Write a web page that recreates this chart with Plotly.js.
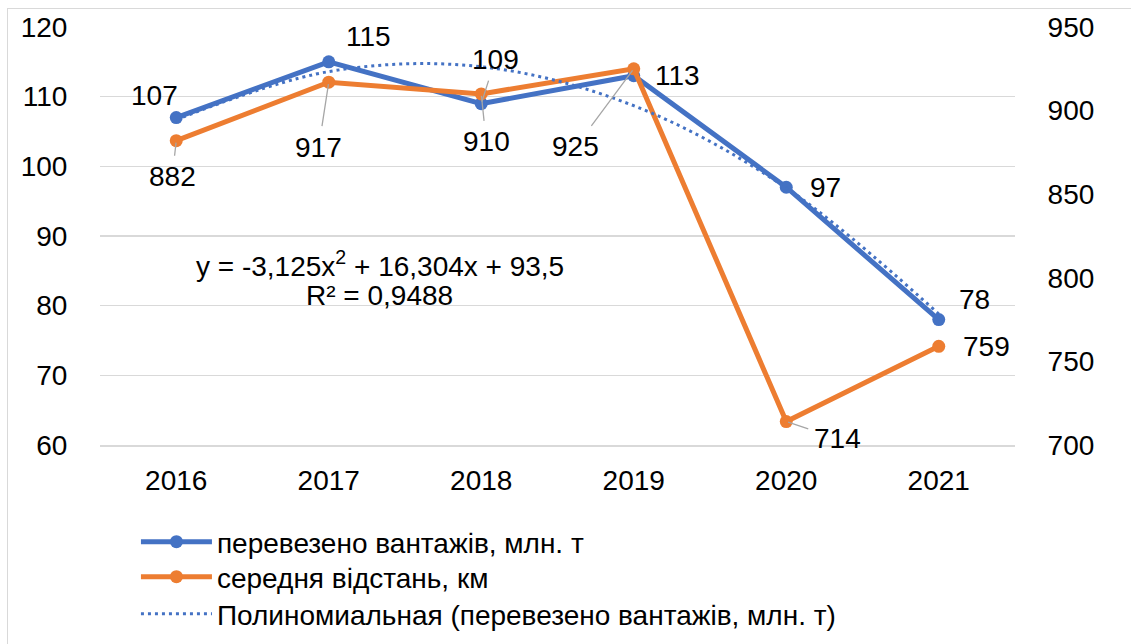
<!DOCTYPE html>
<html><head><meta charset="utf-8">
<script src="https://cdn.plot.ly/plotly-3.0.1.min.js"></script>
<style>html,body{margin:0;padding:0;background:#fff;overflow:hidden}
#chart{width:1131px;height:644px;position:absolute;left:0;top:0}
#frame{position:absolute;left:7px;top:8px;width:1200px;height:700px;border:1px solid #D9D9D9;pointer-events:none}
</style></head><body><div id="chart"></div><div id="frame"></div>
<script>
const years = ['2016','2017','2018','2019','2020','2021'];
const cargo = [107, 115, 109, 113, 97, 78];
const distance = [882, 917, 910, 925, 714, 759];
const trend = [106.7, 113.6, 114.3, 108.7, 96.9, 78.8];
const cargoName = 'перевезено вантажів, млн. т';
const distName = 'середня відстань, км';
const trendName = 'Полиномиальная (перевезено вантажів, млн. т)';
const eqLine1 = 'y = -3,125x<sup>2</sup> + 16,304x + 93,5';
const eqLine2 = 'R² = 0,9488';

// label placement (pixel offsets from the point)
const cargoOff = [[-22, 22, false], [40, 25, false], [14, -44, true], [44, 0, false], [39, 0, false], [36, 20, false]];
const distOff = [[-4, 36, true], [-10, 65, true], [5, 48, true], [-58, 78, true], [51, 17, true], [48, 0, false]];

const FONT = 'Liberation Sans, Arial, sans-serif';
const FS = 28;
const BLUE = '#4472C4', ORANGE = '#ED7D31', GRID = '#D9D9D9', LEAD = '#A6A6A6';

const traces = [
  {x: years, y: cargo, name: cargoName, type: 'scatter', mode: 'lines+markers', legend: 'legend',
   line: {color: BLUE, width: 5}, marker: {color: BLUE, size: 13}, yaxis: 'y'},
  {x: years, y: distance, name: distName, type: 'scatter', mode: 'lines+markers', legend: 'legend2',
   line: {color: ORANGE, width: 5}, marker: {color: ORANGE, size: 13}, yaxis: 'y2'},
  {x: years, y: trend, name: trendName, type: 'scatter', mode: 'lines', legend: 'legend3',
   line: {color: BLUE, width: 3, dash: '3px,4px', shape: 'spline'}, yaxis: 'y3'}
];

const annotations = [];
function addLabel(idx, yv, text, off, yref) {
  const [dx, dy, lead] = off;
  if (lead) {
    annotations.push({x: idx, y: yv, xref: 'x', yref: yref, text: text, showarrow: true,
      arrowhead: 0, arrowwidth: 1.3, arrowcolor: LEAD, ax: dx, ay: dy, axref: 'pixel', ayref: 'pixel',
      borderpad: 5, standoff: 2, font: {family: FONT, size: FS, color: '#000'}});
  } else {
    annotations.push({x: idx, y: yv, xref: 'x', yref: yref, text: text, showarrow: false,
      xanchor: 'center', yanchor: 'middle', xshift: dx, yshift: dy,
      font: {family: FONT, size: FS, color: '#000'}});
  }
}
years.forEach((yr, i) => {
  addLabel(i, cargo[i], String(cargo[i]), cargoOff[i], 'y');
  addLabel(i, distance[i], String(distance[i]), distOff[i], 'y2');
});
annotations.push({xref: 'paper', yref: 'paper', x: 0.306, y: 0.432, xanchor: 'center', yanchor: 'middle',
  text: eqLine1, showarrow: false, font: {family: FONT, size: FS, color: '#000'}});
annotations.push({xref: 'paper', yref: 'paper', x: 0.306, y: 0.357, xanchor: 'center', yanchor: 'middle',
  text: eqLine2, showarrow: false, font: {family: FONT, size: FS, color: '#000'}});

function legendAt(yc) {
  return {xref: 'container', yref: 'container', x: 0.1202, xanchor: 'left', y: yc, yanchor: 'middle',
    itemwidth: 71, font: {family: FONT, size: FS, color: '#000'}, bgcolor: 'rgba(0,0,0,0)', borderwidth: 0};
}

const layout = {
  width: 1131, height: 644,
  margin: {l: 100, r: 116, t: 27, b: 199, autoexpand: false},
  paper_bgcolor: '#fff', plot_bgcolor: '#fff',
  font: {family: FONT, size: FS, color: '#000'},
  showlegend: true,
  legend: legendAt(1 - 542 / 644),
  legend2: legendAt(1 - 577 / 644),
  legend3: legendAt(1 - 614 / 644),
  xaxis: {type: 'category', range: [-0.5, 5.5], showgrid: false, zeroline: false,
    showline: true, linecolor: GRID, linewidth: 1.5,
    ticks: 'outside', ticklen: 10, tickcolor: 'rgba(0,0,0,0)',
    tickfont: {family: FONT, size: FS, color: '#000'}},
  yaxis: {range: [60, 120], dtick: 10, tick0: 60, showgrid: true, gridcolor: GRID, gridwidth: 1.5,
    zeroline: false, showline: false, ticks: 'outside', ticklen: 26, tickcolor: 'rgba(0,0,0,0)',
    tickfont: {family: FONT, size: FS, color: '#000'}},
  yaxis2: {range: [700, 950], dtick: 50, tick0: 700, overlaying: 'y', side: 'right', showgrid: false,
    zeroline: false, showline: false, ticks: 'outside', ticklen: 26, tickcolor: 'rgba(0,0,0,0)',
    tickfont: {family: FONT, size: FS, color: '#000'}},
  yaxis3: {range: [60, 120], overlaying: 'y', visible: false},
  annotations: annotations
};

Plotly.newPlot('chart', traces, layout, {displayModeBar: false, staticPlot: true});
</script></body></html>
